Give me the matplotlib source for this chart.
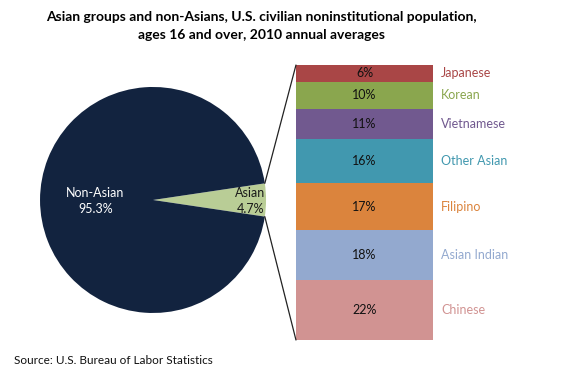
import matplotlib.pyplot as plt
from matplotlib.patches import ConnectionPatch
import numpy as np

plt.rcParams['font.family'] = ['Lato', 'DejaVu Sans']

# Data
pie_labels = ['Asian', 'Non-Asian']
pie_values = [4.7, 95.3]
pie_colors = ['#B9CD96', '#12233F']

groups = ['Chinese', 'Asian Indian', 'Filipino', 'Other Asian', 'Vietnamese', 'Korean', 'Japanese']
shares = [22, 18, 17, 16, 11, 10, 6]
group_colors = ['#D19392', '#93A9CF', '#DB843D', '#4198AF', '#71598F', '#8AA64E', '#A94646']

fig = plt.figure(figsize=(5.8, 3.77), dpi=100)

# pie on the left
ax = fig.add_axes([0.069, 0.1698, 0.3897, 0.5995])
half = pie_values[0] / 100 * 360 / 2
ax.pie(pie_values, colors=pie_colors, startangle=-half, counterclock=True,
       wedgeprops=dict(linewidth=0))
ax.set_aspect('equal')
ax.set_xlim(-1, 1)
ax.set_ylim(-1, 1)
ax.text(-0.51, -0.01, f'{pie_labels[1]}\n{pie_values[1]}%', color='white',
        ha='center', va='center', fontsize=9, linespacing=1.35)
ax.text(0.86, -0.01, f'{pie_labels[0]}\n{pie_values[0]}%', color='#1a1a1a',
        ha='center', va='center', fontsize=9, linespacing=1.35)

# stacked bar on the right
ax2 = fig.add_axes([0.5103, 0.0981, 0.2362, 0.7294])
bottom = 0
for g, s, c in zip(groups, shares, group_colors):
    ax2.bar(0, s, width=1, bottom=bottom, color=c, linewidth=0)
    ax2.text(0, bottom + s / 2, f'{s}%', ha='center', va='center',
             fontsize=9, color='#111111')
    ax2.text(0.56, bottom + s / 2, g, ha='left', va='center',
             fontsize=9, color=c)
    bottom += s
ax2.set_xlim(-0.5, 0.5)
ax2.set_ylim(0, bottom)
ax2.axis('off')

# connector lines from wedge to bar
theta = np.radians(half)
for sgn, yb in [(1, bottom), (-1, 0)]:
    con = ConnectionPatch(xyA=(np.cos(theta), sgn * np.sin(theta)), coordsA=ax.transData,
                          xyB=(-0.5, yb), coordsB=ax2.transData,
                          color='#222222', linewidth=0.9)
    fig.add_artist(con)

fig.text(0.45, 0.97, 'Asian groups and non-Asians, U.S. civilian noninstitutional population,\n'
         'ages 16 and over, 2010 annual averages', ha='center', va='top',
         fontsize=10, fontweight='bold', linespacing=1.55)
fig.text(0.024, 0.035, 'Source: U.S. Bureau of Labor Statistics', fontsize=8.5, color='#111111')

fig.savefig('out.png', dpi=100)
